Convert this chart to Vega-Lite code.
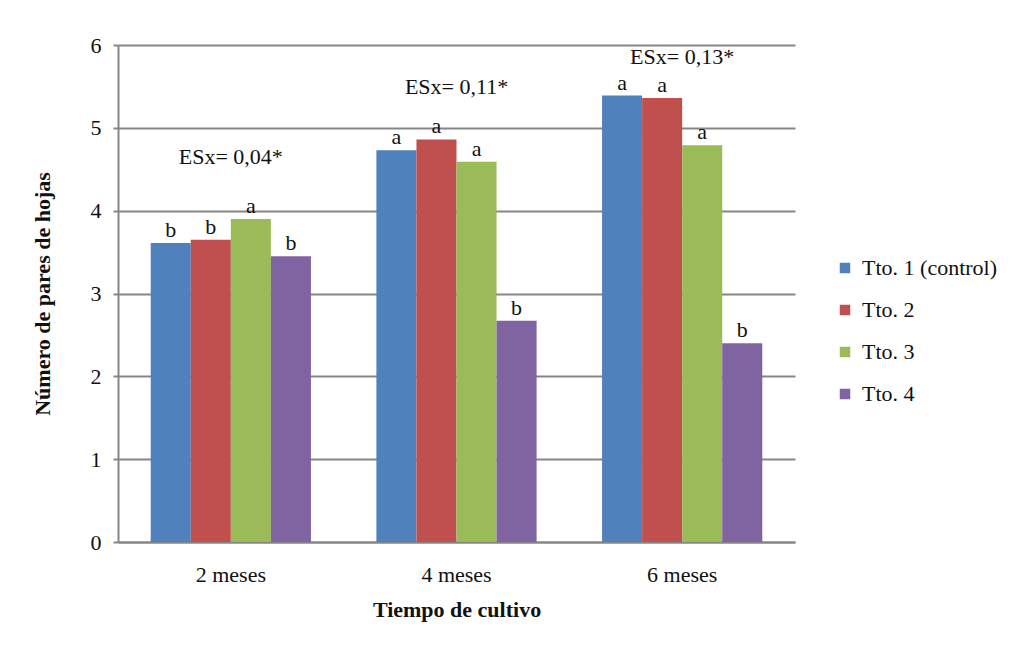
{
  "$schema": "https://vega.github.io/schema/vega-lite/v6.json",
  "width": 677,
  "height": 497,
  "autosize": {"type": "none"},
  "padding": {"left": 118, "top": 45, "right": 240, "bottom": 115},
  "background": "white",
  "config": {
    "font": "Liberation Serif",
    "view": {"stroke": null},
    "axis": {"labelFont": "Liberation Serif", "titleFont": "Liberation Serif", "labelColor": "#111", "titleColor": "#111", "labelFontSize": 22},
    "legend": {"labelFont": "Liberation Serif", "labelFontSize": 22},
    "text": {"font": "Liberation Serif"}
  },
  "layer": [
    {
      "data": {"values": [
        {"tiempo": "2 meses", "tto": "Tto. 1 (control)", "valor": 3.61, "letra": "b"},
        {"tiempo": "2 meses", "tto": "Tto. 2", "valor": 3.65, "letra": "b"},
        {"tiempo": "2 meses", "tto": "Tto. 3", "valor": 3.90, "letra": "a"},
        {"tiempo": "2 meses", "tto": "Tto. 4", "valor": 3.45, "letra": "b"},
        {"tiempo": "4 meses", "tto": "Tto. 1 (control)", "valor": 4.73, "letra": "a"},
        {"tiempo": "4 meses", "tto": "Tto. 2", "valor": 4.86, "letra": "a"},
        {"tiempo": "4 meses", "tto": "Tto. 3", "valor": 4.59, "letra": "a"},
        {"tiempo": "4 meses", "tto": "Tto. 4", "valor": 2.67, "letra": "b"},
        {"tiempo": "6 meses", "tto": "Tto. 1 (control)", "valor": 5.39, "letra": "a"},
        {"tiempo": "6 meses", "tto": "Tto. 2", "valor": 5.36, "letra": "a"},
        {"tiempo": "6 meses", "tto": "Tto. 3", "valor": 4.79, "letra": "a"},
        {"tiempo": "6 meses", "tto": "Tto. 4", "valor": 2.40, "letra": "b"}
      ]},
      "encoding": {
        "x": {"field": "tiempo", "type": "nominal", "sort": null,
          "scale": {"paddingInner": 0.29, "paddingOuter": 0.145},
          "axis": {"title": "Tiempo de cultivo", "labelAngle": 0, "labelFont": "Liberation Serif", "labelFontSize": 22, "titleFontSize": 22, "titleFontWeight": "bold",
            "labelPadding": 22, "titlePadding": 14, "ticks": false, "domainColor": "#868686", "domainWidth": 2}},
        "xOffset": {"field": "tto", "type": "nominal", "sort": null, "scale": {"paddingInner": 0, "paddingOuter": 0}},
        "y": {"field": "valor", "type": "quantitative",
          "scale": {"domain": [0, 6]},
          "axis": {"title": "Número de pares de hojas", "tickCount": 6, "labelFont": "Liberation Serif", "labelFontSize": 22, "titleFontSize": 22, "titleFontWeight": "bold",
            "gridColor": "#868686", "gridWidth": 2, "domainColor": "#868686", "domainWidth": 2, "tickColor": "#868686", "tickWidth": 2, "tickSize": 5,
            "labelPadding": 12, "titlePadding": 36}}
      },
      "layer": [
        {
          "mark": {"type": "bar"},
          "encoding": {
            "color": {"field": "tto", "type": "nominal", "sort": null,
              "scale": {"range": ["#4F81BD", "#C0504D", "#9BBB59", "#8064A2"]},
              "legend": {"title": null, "orient": "none", "legendX": 716, "legendY": 212, "symbolType": "square", "symbolSize": 110,
                "symbolStrokeWidth": 0, "labelFont": "Liberation Serif", "labelFontSize": 22, "labelColor": "#111", "rowPadding": 20, "labelOffset": 6}}
          }
        },
        {
          "mark": {"type": "text", "fontSize": 22, "dy": -13, "color": "#111", "font": "Liberation Serif"},
          "encoding": {"text": {"field": "letra"}}
        }
      ]
    },
    {
      "data": {"values": [
        {"tiempo": "2 meses", "pos": 4.65, "etiqueta": "ESx= 0,04*"},
        {"tiempo": "4 meses", "pos": 5.49, "etiqueta": "ESx= 0,11*"},
        {"tiempo": "6 meses", "pos": 5.86, "etiqueta": "ESx= 0,13*"}
      ]},
      "mark": {"type": "text", "fontSize": 22, "color": "#111", "font": "Liberation Serif"},
      "encoding": {
        "x": {"field": "tiempo", "type": "nominal", "sort": null},
        "y": {"field": "pos", "type": "quantitative"},
        "text": {"field": "etiqueta"}
      }
    }
  ]
}
